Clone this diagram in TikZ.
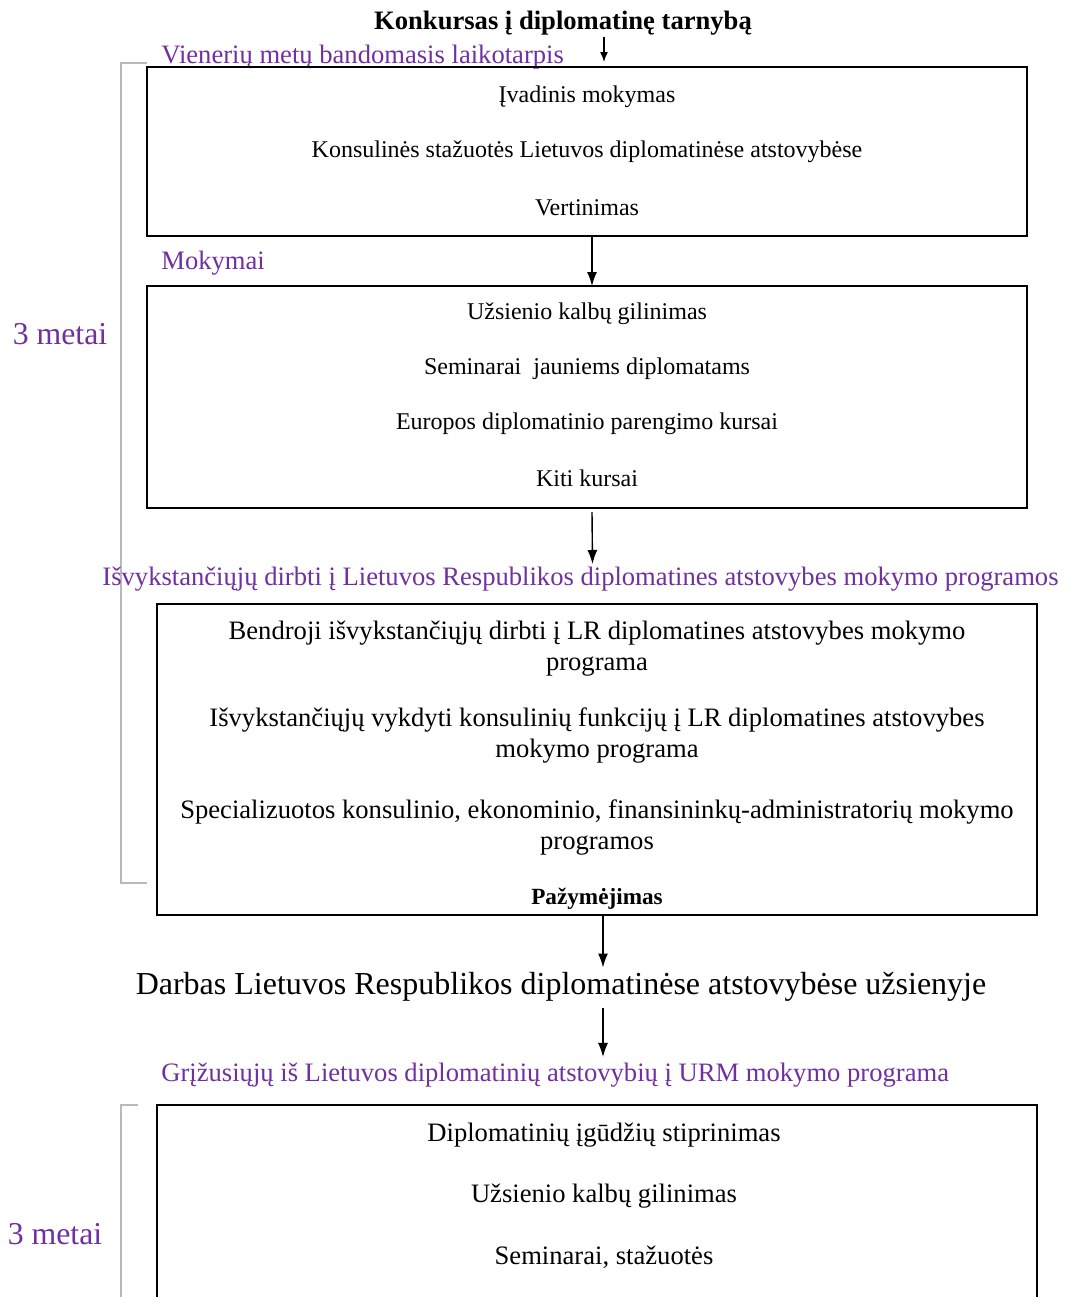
\documentclass[tikz,border=0pt]{standalone}
\usepackage{fontspec}
\setmainfont{Liberation Serif}
\usepackage{xcolor}
\usetikzlibrary{arrows.meta,positioning,calc}
\definecolor{labelpurple}{RGB}{112,48,160}
\definecolor{bracketgray}{RGB}{185,185,185}

\begin{document}
\begin{tikzpicture}[
    x=0.5pt, y=-0.5pt,
    box_node/.style={rectangle, draw=black, line width=1pt, inner sep=0pt, outer sep=0pt},
    text_node/.style={inner sep=0pt, yshift=-1.25pt},
    item_text/.style={text_node, align=center, font=\fontsize{12}{15.5}\selectfont},
    big_item/.style={text_node, align=center, font=\fontsize{13.3}{15.5}\selectfont},
    purple_label/.style={text_node, text=labelpurple, font=\fontsize{13.3}{15}\selectfont},
    years_label/.style={text_node, text=labelpurple, font=\fontsize{15.9}{18}\selectfont},
    gray_bracket/.style={draw=bracketgray, line width=1pt},
    solid_edge/.style={-{Latex[length=7pt,width=5pt]}, line width=0.7pt},
    small_edge/.style={-{Latex[length=5pt,width=4pt]}, line width=0.7pt}
]
    \clip (0,0) rectangle (1072,1297);
    \useasboundingbox (0,0) rectangle (1072,1297);

    % --- Brackets ---
    \draw[gray_bracket] (147,63) -- (121,63) -- (121,883) -- (147,883);
    \draw[gray_bracket] (138,1105) -- (121,1105) -- (121,1310);

    % --- Headings ---
    \node[text_node, font=\fontsize{13.3}{15}\selectfont\bfseries] (title) at (563,21) {Konkursas į diplomatinę tarnybą};
    \node[purple_label, anchor=west] (lab1) at (161,55) {Vienerių metų bandomasis laikotarpis};
    \node[purple_label, anchor=west] (lab2) at (161,261) {Mokymai};
    \node[years_label] (yrs1) at (60,332) {3 metai};

    % --- Box 1 ---
    \node[box_node, minimum width=440pt, minimum height=84.5pt] (b1) at (587,151.5) {};
    \node[item_text] (b1a) at (587,94) {Įvadinis mokymas};
    \node[item_text] (b1b) at (587,149) {Konsulinės stažuotės Lietuvos diplomatinėse atstovybėse};
    \node[item_text] (b1c) at (587,205) {Vertinimas};

    % --- Box 2 ---
    \node[box_node, minimum width=440pt, minimum height=111pt] (b2) at (587,397) {};
    \node[item_text] (b2a) at (587,311) {Užsienio kalbų gilinimas};
    \node[item_text] (b2b) at (587,366) {Seminarai\ \ jauniems diplomatams};
    \node[item_text] (b2c) at (587,421) {Europos diplomatinio parengimo kursai};
    \node[item_text] (b2d) at (587,476) {Kiti kursai};

    % --- Box 3 ---
    \node[purple_label] (lab3) at (580.5,577) {Išvykstančiųjų dirbti į Lietuvos Respublikos diplomatines atstovybes mokymo programos};
    \node[box_node, minimum width=440pt, minimum height=155.5pt] (b3) at (597,759.5) {};
    \node[big_item] (b3a) at (597,646.5) {Bendroji išvykstančiųjų dirbti į LR diplomatines atstovybes mokymo\\programa};
    \node[big_item] (b3b) at (597,733) {Išvykstančiųjų vykdyti konsulinių funkcijų į LR diplomatines atstovybes\\mokymo programa};
    \node[big_item] (b3c) at (597,825) {Specializuotos konsulinio, ekonominio, finansininkų-administratorių mokymo\\programos};
    \node[text_node, font=\fontsize{11.6}{13}\selectfont\bfseries] (b3d) at (597,896) {Pažymėjimas};

    % --- Work abroad ---
    \node[text_node, font=\fontsize{16}{19}\selectfont] (work) at (561,984) {Darbas Lietuvos Respublikos diplomatinėse atstovybėse užsienyje};

    % --- Box 4 ---
    \node[purple_label, anchor=west] (lab4) at (161,1073) {Grįžusiųjų iš Lietuvos diplomatinių atstovybių į URM mokymo programa};
    \node[years_label] (yrs2) at (55,1232) {3 metai};
    \node[box_node, minimum width=440pt, minimum height=117.5pt] (b4) at (597,1222.5) {};
    \node[big_item] (b4a) at (604,1133) {Diplomatinių įgūdžių stiprinimas};
    \node[big_item] (b4b) at (604,1194) {Užsienio kalbų gilinimas};
    \node[big_item] (b4c) at (604,1255) {Seminarai, stažuotės};

    % --- Edges ---
    \coordinate (w_out) at ([xshift=21pt,yshift=-3pt]work.south);
    \draw[small_edge] ([xshift=20.5pt,yshift=-0.5pt]title.south) -- ([xshift=8.5pt,yshift=2.5pt]b1.north);
    \draw[solid_edge] ([xshift=2.5pt]b1.south) -- ([xshift=2.5pt]b2.north);
    \draw[solid_edge] ([xshift=2.5pt,yshift=-2pt]b2.south) -- ([xshift=6pt,yshift=1.5pt]lab3.north);
    \draw[solid_edge] ([xshift=3pt]b3.south) -- ([xshift=21pt,yshift=2pt]work.north);
    \draw[solid_edge] (w_out) -- ([yshift=3pt]w_out |- lab4.north);

\end{tikzpicture}
\end{document}
